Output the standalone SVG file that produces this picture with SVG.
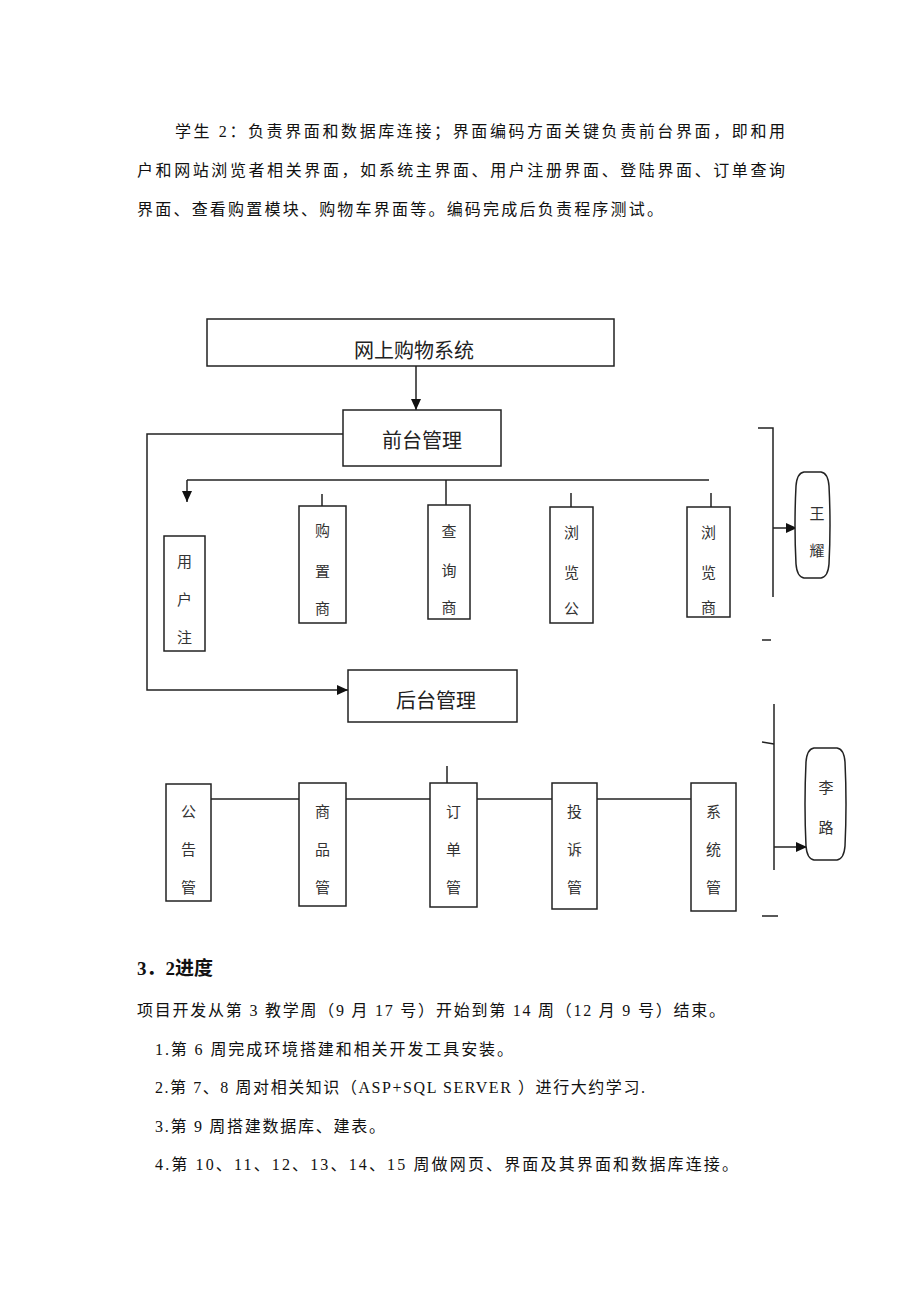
<svg xmlns="http://www.w3.org/2000/svg" width="920" height="1302" viewBox="0 0 920 1302">
<defs>
<marker id="arr" markerUnits="userSpaceOnUse" markerWidth="12" markerHeight="10" refX="11" refY="5" orient="auto">
<path d="M0,0 L11,5 L0,10 Z" fill="#111"/>
</marker>
<style>
.body{font-family:"Liberation Serif","Noto Sans CJK SC",serif;font-size:16px;fill:#111}
.head{font-family:"Liberation Serif","Noto Sans CJK SC",serif;font-size:19px;font-weight:bold;fill:#111}
.box{fill:#fff;stroke:#222;stroke-width:1.5}
.big{font-family:"Noto Sans CJK SC",sans-serif;font-size:20px;fill:#222;text-anchor:middle}
.v{font-family:"Noto Sans CJK SC",sans-serif;font-size:15px;fill:#333;text-anchor:middle}
.ln{fill:none;stroke:#222;stroke-width:1.5}
</style>
</defs>
<rect width="920" height="1302" fill="#fff"/>

<g id="intro">
<text class="body" x="175" y="137" textLength="610" lengthAdjust="spacing">学生 2：负责界面和数据库连接；界面编码方面关键负责前台界面，即和用</text>
<text class="body" x="137" y="176" textLength="648" lengthAdjust="spacing">户和网站浏览者相关界面，如系统主界面、用户注册界面、登陆界面、订单查询</text>
<text class="body" x="137" y="215" textLength="526" lengthAdjust="spacing">界面、查看购置模块、购物车界面等。编码完成后负责程序测试。</text>
</g>

<g id="connectors">
<line class="ln" x1="416" y1="366" x2="416" y2="410" marker-end="url(#arr)"/>
<path class="ln" d="M343,434 H147 V690 H348" marker-end="url(#arr)"/>
<path class="ln" d="M187,480 H709"/>
<line class="ln" x1="187" y1="480" x2="187" y2="502" marker-end="url(#arr)"/>
<line class="ln" x1="322" y1="494" x2="322" y2="506"/>
<line class="ln" x1="446" y1="480" x2="446" y2="505"/>
<line class="ln" x1="571" y1="493" x2="571" y2="507"/>
<line class="ln" x1="711" y1="493" x2="711" y2="507"/>
<line class="ln" x1="211" y1="799" x2="691" y2="799"/>
<line class="ln" x1="447" y1="766" x2="447" y2="783"/>
<path class="ln" d="M758,428 H773 V597"/>
<line class="ln" x1="773" y1="528" x2="797" y2="528" marker-end="url(#arr)"/>
<line class="ln" x1="762" y1="640" x2="771" y2="640"/>
<line class="ln" x1="774" y1="704" x2="774" y2="870"/>
<line class="ln" x1="762" y1="742" x2="774" y2="744"/>
<line class="ln" x1="774" y1="847" x2="807" y2="847" marker-end="url(#arr)"/>
<line class="ln" x1="762" y1="916" x2="778" y2="916"/>
</g>

<g id="n-system">
<rect class="box" x="207" y="319" width="407" height="47"/>
<text class="big" x="414" y="358">网上购物系统</text>
</g>
<g id="n-front">
<rect class="box" x="343" y="410" width="158" height="56"/>
<text class="big" x="422" y="448">前台管理</text>
</g>
<g id="n-back">
<rect class="box" x="348" y="670" width="169" height="52"/>
<text class="big" x="436" y="708">后台管理</text>
</g>

<g id="n-reg">
<rect class="box" x="164" y="536" width="41" height="115"/>
<text class="v"><tspan x="184.5" y="567">用</tspan><tspan x="184.5" y="605">户</tspan><tspan x="184.5" y="643">注</tspan></text>
</g>
<g id="n-buy">
<rect class="box" x="299" y="506" width="47" height="117"/>
<text class="v"><tspan x="322.5" y="536">购</tspan><tspan x="322.5" y="577">置</tspan><tspan x="322.5" y="614">商</tspan></text>
</g>
<g id="n-query">
<rect class="box" x="428" y="505" width="42" height="114"/>
<text class="v"><tspan x="449" y="537">查</tspan><tspan x="449" y="576">询</tspan><tspan x="449" y="613">商</tspan></text>
</g>
<g id="n-browse1">
<rect class="box" x="550" y="507" width="43" height="116"/>
<text class="v"><tspan x="571.5" y="538">浏</tspan><tspan x="571.5" y="578">览</tspan><tspan x="571.5" y="614">公</tspan></text>
</g>
<g id="n-browse2">
<rect class="box" x="687" y="507" width="43" height="110"/>
<text class="v"><tspan x="708.5" y="538">浏</tspan><tspan x="708.5" y="578">览</tspan><tspan x="708.5" y="613">商</tspan></text>
</g>

<g id="n-notice">
<rect class="box" x="166" y="784" width="45" height="117"/>
<text class="v"><tspan x="188.5" y="817">公</tspan><tspan x="188.5" y="855">告</tspan><tspan x="188.5" y="893">管</tspan></text>
</g>
<g id="n-goods">
<rect class="box" x="299" y="783" width="47" height="123"/>
<text class="v"><tspan x="322.5" y="817">商</tspan><tspan x="322.5" y="855">品</tspan><tspan x="322.5" y="893">管</tspan></text>
</g>
<g id="n-order">
<rect class="box" x="430" y="783" width="47" height="124"/>
<text class="v"><tspan x="453.5" y="817">订</tspan><tspan x="453.5" y="855">单</tspan><tspan x="453.5" y="893">管</tspan></text>
</g>
<g id="n-complaint">
<rect class="box" x="552" y="783" width="45" height="126"/>
<text class="v"><tspan x="574.5" y="817">投</tspan><tspan x="574.5" y="855">诉</tspan><tspan x="574.5" y="893">管</tspan></text>
</g>
<g id="n-sys">
<rect class="box" x="691" y="783" width="45" height="128"/>
<text class="v"><tspan x="713.5" y="817">系</tspan><tspan x="713.5" y="855">统</tspan><tspan x="713.5" y="893">管</tspan></text>
</g>

<g id="n-wang">
<path class="box" d="M804,472 H821 Q828,473 829,486 Q831,525 829,564 Q828,577 821,578 H804 Q797,577 796,564 Q794,525 796,486 Q797,473 804,472 Z"/>
<text class="v"><tspan x="817" y="519">王</tspan><tspan x="817" y="556">耀</tspan></text>
</g>
<g id="n-li">
<path class="box" d="M814,748 H837 Q844,749 845,762 Q847,804 845,846 Q844,859 837,860 H814 Q807,859 806,846 Q804,804 806,762 Q807,749 814,748 Z"/>
<text class="v"><tspan x="826" y="793">李</tspan><tspan x="826" y="833">路</tspan></text>
</g>

<g id="schedule">
<text class="head" x="137" y="975">3．2进度</text>
<text class="body" x="137" y="1016" textLength="588" lengthAdjust="spacing">项目开发从第 3 教学周（9 月 17 号）开始到第 14 周（12 月 9 号）结束。</text>
<text class="body" x="155" y="1055" textLength="358" lengthAdjust="spacing">1.第 6 周完成环境搭建和相关开发工具安装。</text>
<text class="body" x="155" y="1093" textLength="490" lengthAdjust="spacing">2.第 7、8 周对相关知识（ASP+SQL SERVER ）进行大约学习.</text>
<text class="body" x="155" y="1132" textLength="230" lengthAdjust="spacing">3.第 9 周搭建数据库、建表。</text>
<text class="body" x="155" y="1170" textLength="583" lengthAdjust="spacing">4.第 10、11、12、13、14、15 周做网页、界面及其界面和数据库连接。</text>
</g>
</svg>
